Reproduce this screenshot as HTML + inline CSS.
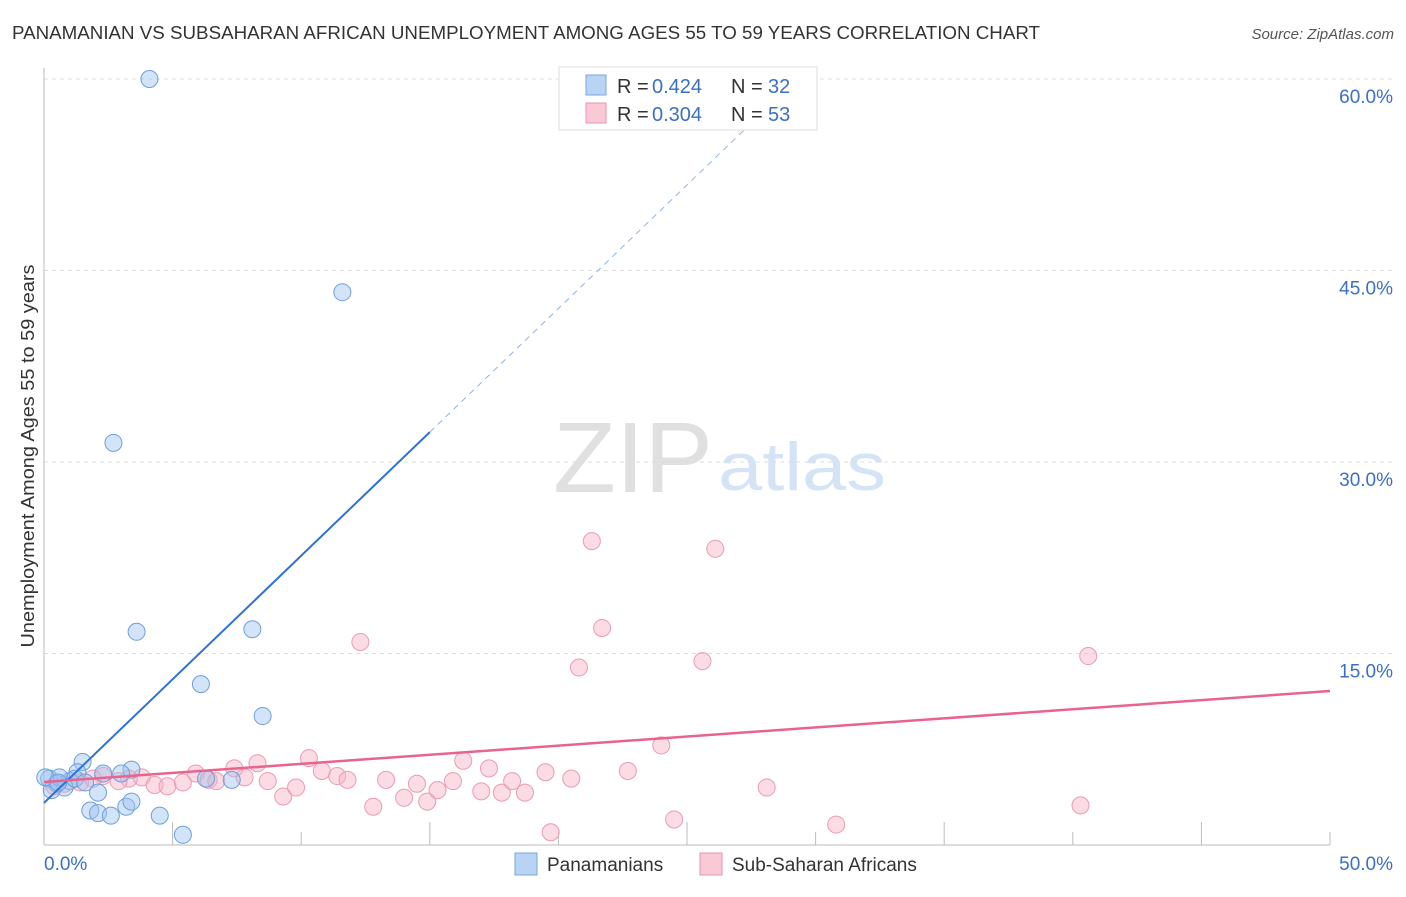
<!DOCTYPE html>
<html><head><meta charset="utf-8">
<style>
body{margin:0;background:#fff;font-family:"Liberation Sans",sans-serif;}
svg text{font-family:"Liberation Sans",sans-serif;}
</style></head>
<body>
<svg id="chart" width="1406" height="892" viewBox="0 0 1406 892" xmlns="http://www.w3.org/2000/svg">
<text x="12" y="39" font-size="18" textLength="1028" lengthAdjust="spacingAndGlyphs" fill="#333">PANAMANIAN VS SUBSAHARAN AFRICAN UNEMPLOYMENT AMONG AGES 55 TO 59 YEARS CORRELATION CHART</text>
<text x="1394" y="39" font-size="15" fill="#555" text-anchor="end" font-style="italic">Source: ZipAtlas.com</text>
<text x="553" y="492" font-size="100" textLength="160" lengthAdjust="spacingAndGlyphs" fill="#e0e0e0" font-family="Liberation Serif">ZIP</text>
<text x="718" y="490" font-size="68" textLength="168" lengthAdjust="spacingAndGlyphs" fill="#d4e3f5">atlas</text>
<g id="grid"></g>
<g id="axes"></g>
<g id="marks"></g>
<text transform="translate(34,456) rotate(-90)" font-size="18" textLength="383" lengthAdjust="spacingAndGlyphs" fill="#333" text-anchor="middle">Unemployment Among Ages 55 to 59 years</text>
<g>
<rect x="559" y="67" width="258" height="63" fill="#fff" stroke="#ddd"/>
<rect x="586" y="75" width="20" height="20" fill="#b8d3f3" stroke="#7aa6dc"/>
<text x="617" y="93" font-size="20" fill="#333">R =</text>
<text x="652" y="93" font-size="20" fill="#3a6fc4">0.424</text>
<text x="731" y="93" font-size="20" fill="#333">N =</text>
<text x="768" y="93" font-size="20" fill="#3a6fc4">32</text>
<rect x="586" y="103" width="20" height="20" fill="#f9c9d6" stroke="#e991ac"/>
<text x="617" y="121" font-size="20" fill="#333">R =</text>
<text x="652" y="121" font-size="20" fill="#3a6fc4">0.304</text>
<text x="731" y="121" font-size="20" fill="#333">N =</text>
<text x="768" y="121" font-size="20" fill="#3a6fc4">53</text>
</g>
<g>
<rect x="515" y="853" width="22" height="22" fill="#b8d3f3" stroke="#7aa6dc"/>
<text x="547" y="871" font-size="19" fill="#333">Panamanians</text>
<rect x="700" y="853" width="22" height="22" fill="#f9c9d6" stroke="#e991ac"/>
<text x="732" y="871" font-size="19" fill="#333">Sub-Saharan Africans</text>
</g>
</svg>
<script>
const yTicks=[15,30,45,60];
const yTickLabels=["15.0%","30.0%","45.0%","60.0%"];
const xTicks=[0,5,10,15,20,25,30,35,40,45,50];
const blueX=[4.1,11.6,2.7,3.6,8.1,6.1,8.5,1.5,3.4,3.0,1.3,0.2,0.5,1.0,2.3,0.8,2.1,6.3,7.3,1.8,2.1,2.6,3.2,3.4,4.5,5.4,0.3,0.6,1.2,0.05,0.55,1.6];
const blueY=[60.0,43.3,31.5,16.7,16.9,12.6,10.1,6.5,5.9,5.6,5.7,5.2,4.8,5.0,5.6,4.5,4.1,5.2,5.1,2.7,2.5,2.3,3.0,3.4,2.3,0.8,4.3,5.3,5.2,5.3,4.9,4.9];
const pinkX=[21.3,26.1,12.3,21.7,20.8,25.6,40.6,24.0,16.3,17.3,8.3,10.3,7.4,5.9,3.8,3.3,2.3,2.9,4.3,4.8,5.4,6.4,6.7,7.8,8.7,9.3,9.8,10.8,11.4,11.8,12.8,13.3,14.0,14.5,14.9,15.3,15.9,17.0,17.8,18.2,18.7,19.5,20.5,22.7,24.5,19.7,28.1,30.8,40.3,0.8,1.4,1.9,0.4];
const pinkY=[23.8,23.2,15.9,17.0,13.9,14.4,14.8,7.8,6.6,6.0,6.4,6.8,6.0,5.6,5.3,5.2,5.4,5.0,4.7,4.6,4.9,5.1,5.0,5.3,5.0,3.8,4.5,5.8,5.4,5.1,3.0,5.1,3.7,4.8,3.4,4.3,5.0,4.2,4.1,5.0,4.1,5.7,5.2,5.8,2.0,1.0,4.5,1.6,3.1,4.8,4.9,5.2,4.6];
const blueTrend=[3.3,1.936];
const pinkTrend=[4.93,12.06];
const NS="http://www.w3.org/2000/svg";
const X=v=>44+v*25.72, Y=v=>845-v*12.767;
function mk(p,t,a){const e=document.createElementNS(NS,t);for(const k in a)e.setAttribute(k,a[k]);p.appendChild(e);return e;}
const grid=document.getElementById('grid'),axes=document.getElementById('axes'),marks=document.getElementById('marks');
yTicks.forEach((v,i)=>{
 const l=mk(grid,'line',{x1:44,x2:1394,y1:Y(v),y2:Y(v),stroke:'#ddd','stroke-dasharray':'4,4'});
 
 
 const t=mk(axes,'text',{x:1393,y:Y(v)+24,'font-size':19,fill:'#3a6fc4','text-anchor':'end'});t.textContent=yTickLabels[i];
 
 
});
mk(axes,'line',{x1:44,x2:44,y1:68,y2:845,stroke:'#bbb'});
mk(axes,'line',{x1:44,x2:1330,y1:845,y2:845,stroke:'#bbb'});
xTicks.forEach((v,i)=>{
 if(i===0)return;
 const tk=mk(axes,'line',{x1:X(v),x2:X(v),y1:i%2===0?832:822,y2:845,stroke:'#bbb'});
 
 
});
const xl=mk(axes,'text',{x:44,y:870,'font-size':19,fill:'#3a6fc4'});xl.textContent='0.0%';


const xr=mk(axes,'text',{x:1393,y:870,'font-size':19,fill:'#3a6fc4','text-anchor':'end'});xr.textContent='50.0%';


pinkX.forEach((v,i)=>{
 const c=mk(marks,'circle',{cx:X(v),cy:Y(pinkY[i]),r:8.5,fill:'rgba(246,178,198,0.45)',stroke:'#ec9ab4','stroke-width':1});
 
 
});
blueX.forEach((v,i)=>{
 const c=mk(marks,'circle',{cx:X(v),cy:Y(blueY[i]),r:8.5,fill:'rgba(160,196,240,0.45)',stroke:'#6d9fdc','stroke-width':1});
 
 
});
const bx1=15, bx2=28.3;
const b1=mk(marks,'line',{x1:X(0),y1:Y(blueTrend[0]),x2:X(bx1),y2:Y(blueTrend[0]+blueTrend[1]*bx1),stroke:'#2f72d6','stroke-width':2});


const b2=mk(marks,'line',{x1:X(bx1),y1:Y(blueTrend[0]+blueTrend[1]*bx1),x2:X(bx2),y2:Y(blueTrend[0]+blueTrend[1]*bx2),stroke:'#8fb3e6','stroke-width':1,'stroke-dasharray':'6,5'});


const p1=mk(marks,'line',{x1:X(0),y1:Y(pinkTrend[0]),x2:X(50),y2:Y(pinkTrend[1]),stroke:'#e8648f','stroke-width':2.5});


</script>
</body></html>
